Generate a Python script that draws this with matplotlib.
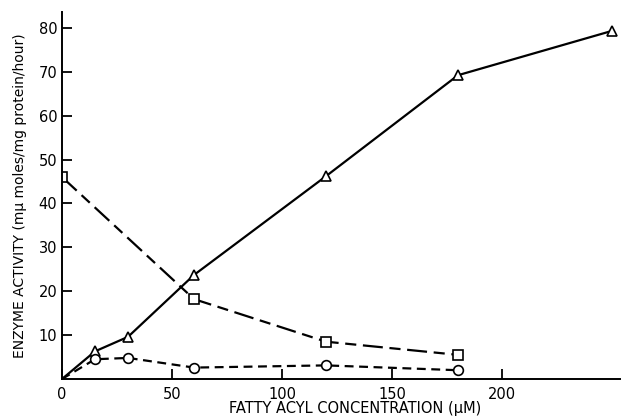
import numpy as np
import matplotlib
matplotlib.use("Agg")
import matplotlib.pyplot as plt

plt.rcParams.update({
    'font.family': ['DejaVu Sans'],
    'font.size': 10,
})

# triangles (solid)
tri_x = [0, 15, 30, 60, 120, 180, 250]
tri_y = [0, 6.3, 9.6, 23.7, 46.2, 69.2, 79.3]
# squares (long dash)
sq_x = [0, 60, 120, 180]
sq_y = [46, 18.2, 8.5, 5.5]
# circles (short dash)
circ_x = [0, 15, 30, 60, 120, 180]
circ_y = [0, 4.5, 4.8, 2.6, 3.1, 2.0]

x_ticks = [0, 50, 100, 150, 200]
y_ticks = [10, 20, 30, 40, 50, 60, 70, 80]

fig = plt.figure(figsize=(6.21, 4.20), dpi=100)
ax = fig.add_axes([62 / 621, 41 / 420, (620 - 62) / 621, (379 - 12) / 420])

mstyle = dict(linestyle='none', markersize=7, markerfacecolor='white',
              markeredgecolor='black', markeredgewidth=1.2)

ax.plot(tri_x, tri_y, color='black', linewidth=1.6)
ax.plot(tri_x[1:], tri_y[1:], '^', **mstyle)
ax.plot(sq_x, sq_y, color='black', linewidth=1.6, dashes=(9, 3, 5, 3))
ax.plot(sq_x, sq_y, 's', **mstyle)
ax.plot(circ_x, circ_y, color='black', linewidth=1.6, dashes=(4, 2.5))
ax.plot(circ_x[1:], circ_y[1:], 'o', **mstyle)

ax.set_xlim(0, (620 - 62) / 2.2)
ax.set_ylim(0, (379 - 12) / 4.39)
ax.set_xticks(x_ticks)
ax.set_yticks(y_ticks)
ax.tick_params(direction='in', length=7, width=1.3, labelsize=10.5)
ax.tick_params(axis='x', pad=6)
for s in ['top', 'right']:
    ax.spines[s].set_visible(False)
for s in ['left', 'bottom']:
    ax.spines[s].set_linewidth(1.4)

ax.set_xlabel("FATTY ACYL CONCENTRATION (\u03bcM)", fontsize=10.5, labelpad=0)
ax.xaxis.set_label_coords(0.525, -0.06)
ax.set_ylabel("ENZYME ACTIVITY (m\u03bc moles/mg protein/hour)", fontsize=10, labelpad=8)

fig.savefig("out.png", dpi=100)
